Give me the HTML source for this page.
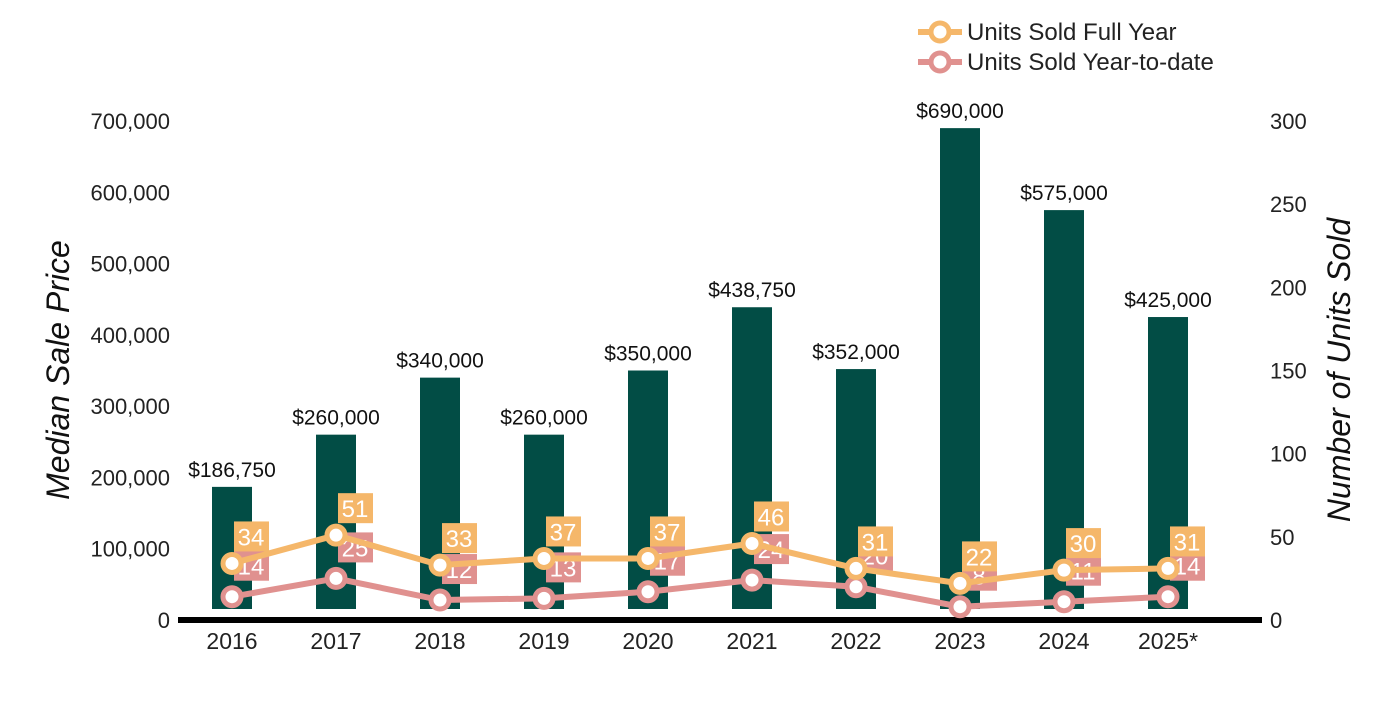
<!DOCTYPE html>
<html><head><meta charset="utf-8"><style>
body{margin:0;background:#fff;font-family:"Liberation Sans",Arial,sans-serif}
svg text{font-family:"Liberation Sans",Arial,sans-serif}
</style></head><body>
<svg id="c" width="1400" height="700" viewBox="0 0 1400 700"></svg>
<script>
const categories=["2016","2017","2018","2019","2020","2021","2022","2023","2024","2025*"];
const prices=[186750,260000,340000,260000,350000,438750,352000,690000,575000,425000];
const priceLabels=["$186,750","$260,000","$340,000","$260,000","$350,000","$438,750","$352,000","$690,000","$575,000","$425,000"];
const fullYear=[34,51,33,37,37,46,31,22,30,31];
const ytd=[14,25,12,13,17,24,20,8,11,14];
const leftTicks=[0,100000,200000,300000,400000,500000,600000,700000];
const rightTicks=[0,50,100,150,200,250,300];
const NS="http://www.w3.org/2000/svg";
const svg=document.getElementById('c');
const y0=620,yTop=121;
const yL=v=>y0-(y0-yTop)*v/700000;
const yR=v=>y0-(y0-yTop)*v/300;
const xC=i=>232+i*104;
function mk(t,a,p){const e=document.createElementNS(NS,t);for(const k in a)e.setAttribute(k,a[k]);(p||svg).appendChild(e);return e;}
leftTicks.forEach(v=>{const t=mk('text',{x:170,y:yL(v)+8,'text-anchor':'end','font-size':22,fill:'#222'});t.textContent=v.toLocaleString('en-US');

});
rightTicks.forEach(v=>{const t=mk('text',{x:1270,y:yR(v)+8,'font-size':22,fill:'#222'});t.textContent=v;

});
let t=mk('text',{x:0,y:0,transform:'translate(69,370) rotate(-90)','text-anchor':'middle','font-size':32,'font-style':'italic',fill:'#111'});t.textContent='Median Sale Price';


t=mk('text',{x:0,y:0,transform:'translate(1350,370) rotate(-90)','text-anchor':'middle','font-size':32,'font-style':'italic',fill:'#111'});t.textContent='Number of Units Sold';


categories.forEach((c,i)=>{
 const r=mk('rect',{x:xC(i)-20,y:yL(prices[i]),width:40,height:609-yL(prices[i]),fill:'#024D45'});
 
 
 const l=mk('text',{x:xC(i),y:yL(prices[i])-10,'text-anchor':'middle','font-size':21,fill:'#111'});l.textContent=priceLabels[i];
 
 
 const x=mk('text',{x:xC(i),y:649,'text-anchor':'middle','font-size':23,fill:'#222'});x.textContent=c;
 
 
});
const ax=mk('line',{x1:178,x2:1262,y1:620,y2:620,stroke:'#000','stroke-width':6});


function series(vals,color,name,dy){
 const pl=mk('polyline',{points:vals.map((v,i)=>xC(i)+','+yR(v)).join(' '),fill:'none',stroke:color,'stroke-width':6});
 
 
 vals.forEach((v,i)=>{
  const b=mk('rect',{x:xC(i)+2,y:yR(v)+dy-15,width:35,height:30,fill:color});
  
  
  const tx=mk('text',{x:xC(i)+19,y:yR(v)+dy+9,'text-anchor':'middle','font-size':24,fill:'#fff'});tx.textContent=v;
  
  
 });
 return vals;
}
function points(vals,color,name){
 vals.forEach((v,i)=>{const c=mk('circle',{cx:xC(i),cy:yR(v),r:9,fill:'#fff',stroke:color,'stroke-width':5});
 
 });
}
series(ytd,'#E0918F','ytd',-31);
series(fullYear,'#F5B76A','full-year',-27);
points(ytd,'#E0918F','ytd');
points(fullYear,'#F5B76A','full-year');
[['Units Sold Full Year','#F5B76A',32],['Units Sold Year-to-date','#E0918F',62]].forEach(([n,c,y])=>{
 const g=mk('g',{});
 
 
 mk('line',{x1:918,x2:962,y1:y,y2:y,stroke:c,'stroke-width':6},g);
 mk('circle',{cx:940,cy:y,r:9,fill:'#fff',stroke:c,'stroke-width':5},g);
 const tt=mk('text',{x:967,y:y+8,'font-size':24,fill:'#222'},g);tt.textContent=n;
});
</script>
</body></html>
